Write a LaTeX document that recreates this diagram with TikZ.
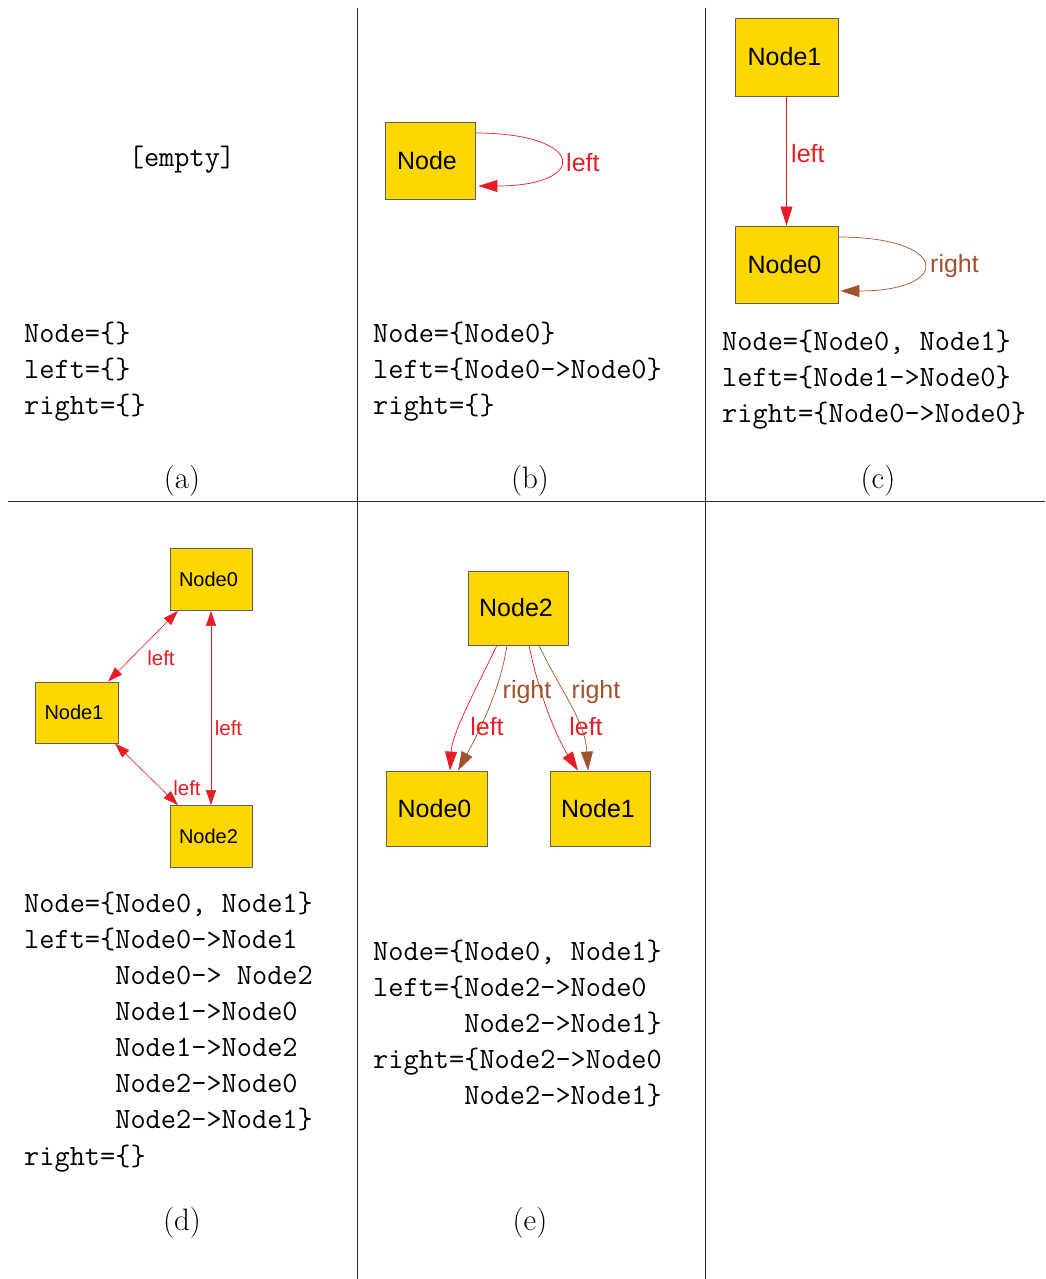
\documentclass[tikz,border=0pt]{standalone}
\usepackage{fontspec}
\newfontfamily\arialf{Liberation Sans}
\usetikzlibrary{arrows.meta,calc}
\definecolor{nodeyel}{RGB}{255,215,0}
\definecolor{edgered}{RGB}{232,28,36}
\definecolor{edgebrown}{RGB}{160,82,45}
\definecolor{boxline}{RGB}{95,95,95}
\definecolor{gridline}{RGB}{40,40,40}
\begin{document}
\begin{tikzpicture}[x=1pt,y=-1pt,
  box/.style={draw=boxline, line width=0.8pt, fill=nodeyel, inner sep=0pt, text=black,
              font=\arialf\fontsize{25}{26}\selectfont},
  sbox/.style={box, font=\arialf\fontsize{20}{22}\selectfont},
  lbl/.style={inner sep=0pt, font=\arialf\fontsize{25}{26}\selectfont},
  slbl/.style={inner sep=0pt, font=\arialf\fontsize{20.5}{22}\selectfont},
  redE/.style={draw=edgered, line width=0.7pt, -{Triangle[length=19pt,width=12pt]}},
  brownE/.style={draw=edgebrown, line width=0.7pt, -{Triangle[length=19pt,width=12pt]}},
  dblE/.style={draw=edgered, line width=0.6pt, {Triangle[length=15pt,width=10pt]}-{Triangle[length=15pt,width=10pt]}},
  mono/.style={inner sep=0pt, anchor=base west, font=\ttfamily\fontsize{29.5}{36}\selectfont},
  capt/.style={inner sep=0pt, anchor=base, font=\rmfamily\fontsize{31}{36}\selectfont},
  grid/.style={draw=gridline, line width=0.9pt}
]
\useasboundingbox (0,0) rectangle (1045,1279);

% grid lines
\coordinate (v1t) at (357,8);  \coordinate (v1b) at (357,1279);
\coordinate (v2t) at (705,8);  \coordinate (v2b) at (705,1279);
\coordinate (hl) at (8,501);   \coordinate (hr) at (1045,501);
\draw[grid] (v1t) -- (v1b);
\draw[grid] (v2t) -- (v2b);
\draw[grid] (hl) -- (hr);

% ---------- (a)
\node[inner sep=0pt, font=\ttfamily\fontsize{29.5}{36}\selectfont] (aempty) at (182,160) {[empty]};
\node[mono] (a1) at (24,342) {Node=\{\}};
\node[mono] (a2) at (24,378) {left=\{\}};
\node[mono] (a3) at (24,414) {right=\{\}};
\node[capt] (ca) at (182,488) {(a)};

% ---------- (b)
\node[box, minimum width=90pt, minimum height=77pt] (nb) at (430,160.5) {\hspace*{-6pt}Node};
\draw[redE] ([yshift=27.5pt]nb.east) to[out=0,in=0,distance=111pt] ([xshift=3pt,yshift=-25.5pt]nb.east);
\node[lbl, text=edgered, anchor=west] (lb) at (566,163) {left};
\node[mono] (b1) at (373,342) {Node=\{Node0\}};
\node[mono] (b2) at (373,378) {left=\{Node0->Node0\}};
\node[mono] (b3) at (373,414) {right=\{\}};
\node[capt] (cb) at (530,488) {(b)};

% ---------- (c)
\node[box, minimum width=103pt, minimum height=78pt] (c1) at (786.5,57) {\hspace*{-4pt}Node1};
\node[box, minimum width=103pt, minimum height=77pt] (c0) at (786.5,264.5) {\hspace*{-4pt}Node0};
\draw[redE] (c1.south) -- (c0.north);
\node[lbl, text=edgered, anchor=west] (lc1) at (791,154) {left};
\draw[brownE] ([yshift=27.5pt]c0.east) to[out=0,in=0,distance=112pt] ([xshift=2pt,yshift=-26.5pt]c0.east);
\node[lbl, text=edgebrown, anchor=west] (lc2) at (930,266) {right};
\node[mono] (c1t) at (722,350) {Node=\{Node0, Node1\}};
\node[mono] (c2t) at (722,386) {left=\{Node1->Node0\}};
\node[mono] (c3t) at (722,422) {right=\{Node0->Node0\}};
\node[capt] (cc) at (878,488) {(c)};

% ---------- (d)
\node[sbox, minimum width=82pt, minimum height=62pt] (d0) at (211,579.5) {\hspace*{-5pt}Node0};
\node[sbox, minimum width=83pt, minimum height=61pt] (d1) at (76.5,712.5) {\hspace*{-5pt}Node1};
\node[sbox, minimum width=82pt, minimum height=62pt] (d2) at (211,836.5) {\hspace*{-5pt}Node2};
\draw[dblE] ([xshift=-33pt]d0.south) -- ([xshift=31.5pt]d1.north);
\draw[dblE] (d0.south) -- (d2.north);
\draw[dblE] ([xshift=38.5pt]d1.south) -- ([xshift=-33pt]d2.north);
\node[slbl, text=edgered] (ld1) at (161,658) {left};
\node[slbl, text=edgered] (ld2) at (228.5,728) {left};
\node[slbl, text=edgered] (ld3) at (187,788) {left};
\node[mono] (d1t) at (24,912) {Node=\{Node0, Node1\}};
\node[mono] (d2t) at (24,948) {left=\{Node0->Node1};
\node[mono] (d3t) at (24,984) {\phantom{left=\{}Node0-> Node2};
\node[mono] (d4t) at (24,1020) {\phantom{left=\{}Node1->Node0};
\node[mono] (d5t) at (24,1056) {\phantom{left=\{}Node1->Node2};
\node[mono] (d6t) at (24,1092) {\phantom{left=\{}Node2->Node0};
\node[mono] (d7t) at (24,1128) {\phantom{left=\{}Node2->Node1\}};
\node[mono] (d8t) at (24,1165) {right=\{\}};
\node[capt] (cd) at (182,1230) {(d)};

% ---------- (e)
\node[box, minimum width=100pt, minimum height=74pt] (e2) at (518,608) {\hspace*{-4pt}Node2};
\node[box, minimum width=101pt, minimum height=75pt] (e0) at (436.5,808.5) {\hspace*{-4pt}Node0};
\node[box, minimum width=100pt, minimum height=75pt] (e1) at (600,808.5) {\hspace*{-4pt}Node1};
\draw[redE] ([xshift=-21pt]e2.south) .. controls (470,700) and (452,735) .. ([xshift=13.5pt]e0.north);
\draw[brownE] ([xshift=-11pt]e2.south) .. controls (500,690) and (480,730) .. ([xshift=21.5pt]e0.north);
\draw[redE] ([xshift=11pt]e2.south) .. controls (538,690) and (555,735) .. ([xshift=-22pt]e1.north);
\draw[brownE] ([xshift=21pt]e2.south) .. controls (560,690) and (585,720) .. ([xshift=-12pt]e1.north);
\node[lbl, text=edgebrown] (le1) at (527,692) {right};
\node[lbl, text=edgered] (le2) at (487,727) {left};
\node[lbl, text=edgebrown] (le3) at (596,692) {right};
\node[lbl, text=edgered] (le4) at (586,727) {left};
\node[mono] (e1t) at (373,960) {Node=\{Node0, Node1\}};
\node[mono] (e2t) at (373,996) {left=\{Node2->Node0};
\node[mono] (e3t) at (373,1032) {\phantom{left=\{}Node2->Node1\}};
\node[mono] (e4t) at (373,1068) {right=\{Node2->Node0};
\node[mono] (e5t) at (373,1104) {\phantom{left=\{}Node2->Node1\}};
\node[capt] (ce) at (530,1230) {(e)};
\end{tikzpicture}
\end{document}
